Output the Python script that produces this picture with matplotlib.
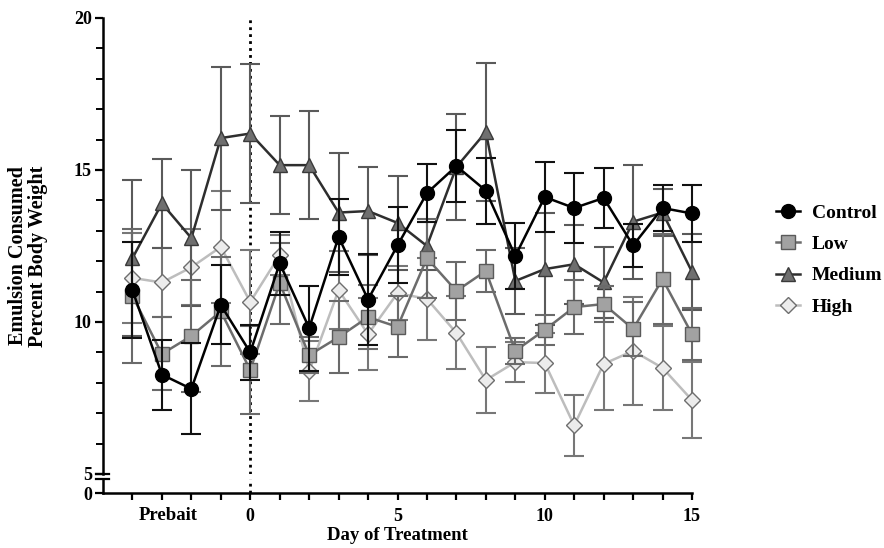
import matplotlib
matplotlib.use("Agg")
import matplotlib.pyplot as plt
from matplotlib.lines import Line2D
from matplotlib.ticker import MultipleLocator

days = list(range(-4, 16))

control = [11.05, 8.27, 7.8, 10.56, 9.0, 11.93, 9.8, 12.8, 10.74, 12.52, 14.24, 15.13, 14.32,
           12.17, 14.11, 13.75, 14.08, 12.52, 13.75, 13.57]
control_se = [1.57, 1.15, 1.5, 1.3, 0.9, 1.03, 1.4, 1.25, 1.5, 1.25, 0.95, 1.18, 1.08,
              1.08, 1.15, 1.15, 1.0, 0.7, 0.76, 0.95]

low = [10.86, 8.95, 9.54, 10.35, 8.42, 11.28, 8.91, 9.5, 10.16, 9.84, 12.1, 11.02, 11.68,
       9.05, 9.74, 10.49, 10.59, 9.77, 11.41, 9.6]
low_se = [2.2, 1.2, 1.84, 1.8, 1.45, 1.33, 0.6, 1.18, 1.05, 1.0, 1.3, 0.95, 0.7,
          0.43, 0.5, 0.9, 0.6, 0.9, 1.48, 0.86]

medium = [12.1, 13.9, 12.76, 16.05, 16.2, 15.16, 15.16, 13.6, 13.65, 13.26, 12.5, 15.1, 16.25,
          11.35, 11.74, 11.9, 11.3, 13.3, 13.6, 11.65]
medium_se = [2.57, 1.45, 2.24, 2.35, 2.3, 1.6, 1.78, 1.97, 1.45, 1.55, 0.8, 1.75, 2.27,
             1.08, 1.84, 1.3, 1.18, 1.87, 0.76, 1.25]

high = [11.45, 11.3, 11.8, 12.47, 10.66, 12.2, 8.39, 11.05, 9.6, 10.95, 10.76, 9.64, 8.09,
        8.68, 8.65, 6.6, 8.62, 9.05, 8.49, 7.43]
high_se = [1.48, 1.15, 1.25, 1.84, 1.7, 0.65, 1.0, 1.28, 1.18, 0.9, 1.35, 1.2, 1.08,
           0.66, 1.0, 1.0, 1.5, 1.78, 1.38, 1.25]

plt.rcParams['font.family'] = 'Liberation Serif'
plt.rcParams['font.weight'] = 'bold'

fig = plt.figure(figsize=(8.84, 5.48), dpi=100)
W, H = 884, 548
x0, x1 = 103, 692
ax = fig.add_axes([x0 / W, 1 - 474 / H, (x1 - x0) / W, (474 - 18) / H])
axb = fig.add_axes([x0 / W, 1 - 493 / H, (x1 - x0) / W, (493 - 479) / H], sharex=ax)

# series: label, values, se, marker, face, edge, line color, errbar color, size
series = [
    ("High", high, high_se, "D", "#ececec", "#6e6e6e", "#bdbdbd", "#777777", 8),
    ("Medium", medium, medium_se, "^", "#6f6f6f", "#3a3a3a", "#2e2e2e", "#5a5a5a", 10),
    ("Low", low, low_se, "s", "#a2a2a2", "#5a5a5a", "#6c6c6c", "#6a6a6a", 9.5),
    ("Control", control, control_se, "o", "#000000", "#000000", "#000000", "#111111", 10),
]
handles = {}
for i, (name, vals, se, mk, fc, ec, lc, erc, ms) in enumerate(series):
    eb = ax.errorbar(days, vals, yerr=se, fmt="none", ecolor=erc, elinewidth=1.5,
                     capsize=7, capthick=1.5, zorder=2 + i * 2)
    for art in eb.get_children():
        art.set_clip_on(False)
    ax.plot(days, vals, color=lc, lw=1.8, marker=mk, ms=ms, mfc=fc, mec=ec,
            mew=1.0, zorder=3 + i * 2, clip_on=False)
    handles[name] = Line2D([], [], color=lc, lw=1.8, marker=mk, ms=ms, mfc=fc, mec=ec, mew=1.0)

ax.axvline(0, color="black", ls=(0, (1, 1.5)), lw=2, zorder=1)
axb.axvline(0, color="black", ls=(0, (1, 1.5)), lw=2, zorder=1)

ax.set_xlim(-5, 15)
ax.set_ylim(5, 20)
axb.set_ylim(0, 14 / 30.4)

ax.yaxis.set_major_locator(MultipleLocator(5))
ax.yaxis.set_minor_locator(MultipleLocator(1))
axb.set_yticks([0])

for a in (ax, axb):
    a.spines["right"].set_visible(False)
    a.spines["top"].set_visible(False)
    a.spines["left"].set_linewidth(1.8)
    a.spines["bottom"].set_linewidth(1.8)
    a.patch.set_alpha(0)
    a.tick_params(axis="both", which="major", direction="out", length=6, width=1.6,
                  labelsize=13, pad=2)
    a.tick_params(axis="y", which="minor", direction="out", length=5, width=1.4)
ax.spines["bottom"].set_visible(False)
ax.tick_params(axis="x", which="both", bottom=False, labelbottom=False)

axb.set_xticks(days)
axb.set_xticklabels([str(d) if d in (0, 5, 10, 15) else "" for d in days])
axb.tick_params(axis="x", length=5, pad=6)
fig.text((x0 + (-2.8 + 5) * (x1 - x0) / 20) / W, 1 - 515 / H, "Prebait", ha="center",
         va="center", fontsize=13.5, fontweight="bold")

# axis break marks
for yb in (474, 479):
    fig.add_artist(Line2D([96 / W, 109 / W], [1 - yb / H, 1 - yb / H], color="black", lw=1.6))

fig.text(397 / W, 1 - 536 / H, "Day of Treatment", ha="center", va="center",
         fontsize=13.5, fontweight="bold")
fig.text(28 / W, 1 - 256 / H, "Emulsion Consumed\nPercent Body Weight", ha="center",
         va="center", rotation=90, fontsize=14.5, fontweight="bold", linespacing=1.05)

order = ["Control", "Low", "Medium", "High"]
fig.legend([handles[n] for n in order], order, loc="center left",
           bbox_to_anchor=(776 / W, 1 - 260 / H), frameon=False, fontsize=14,
           handlelength=1.25, labelspacing=0.7, handletextpad=0.6,
           borderaxespad=0, borderpad=0)

fig.savefig("out.png", dpi=100)
